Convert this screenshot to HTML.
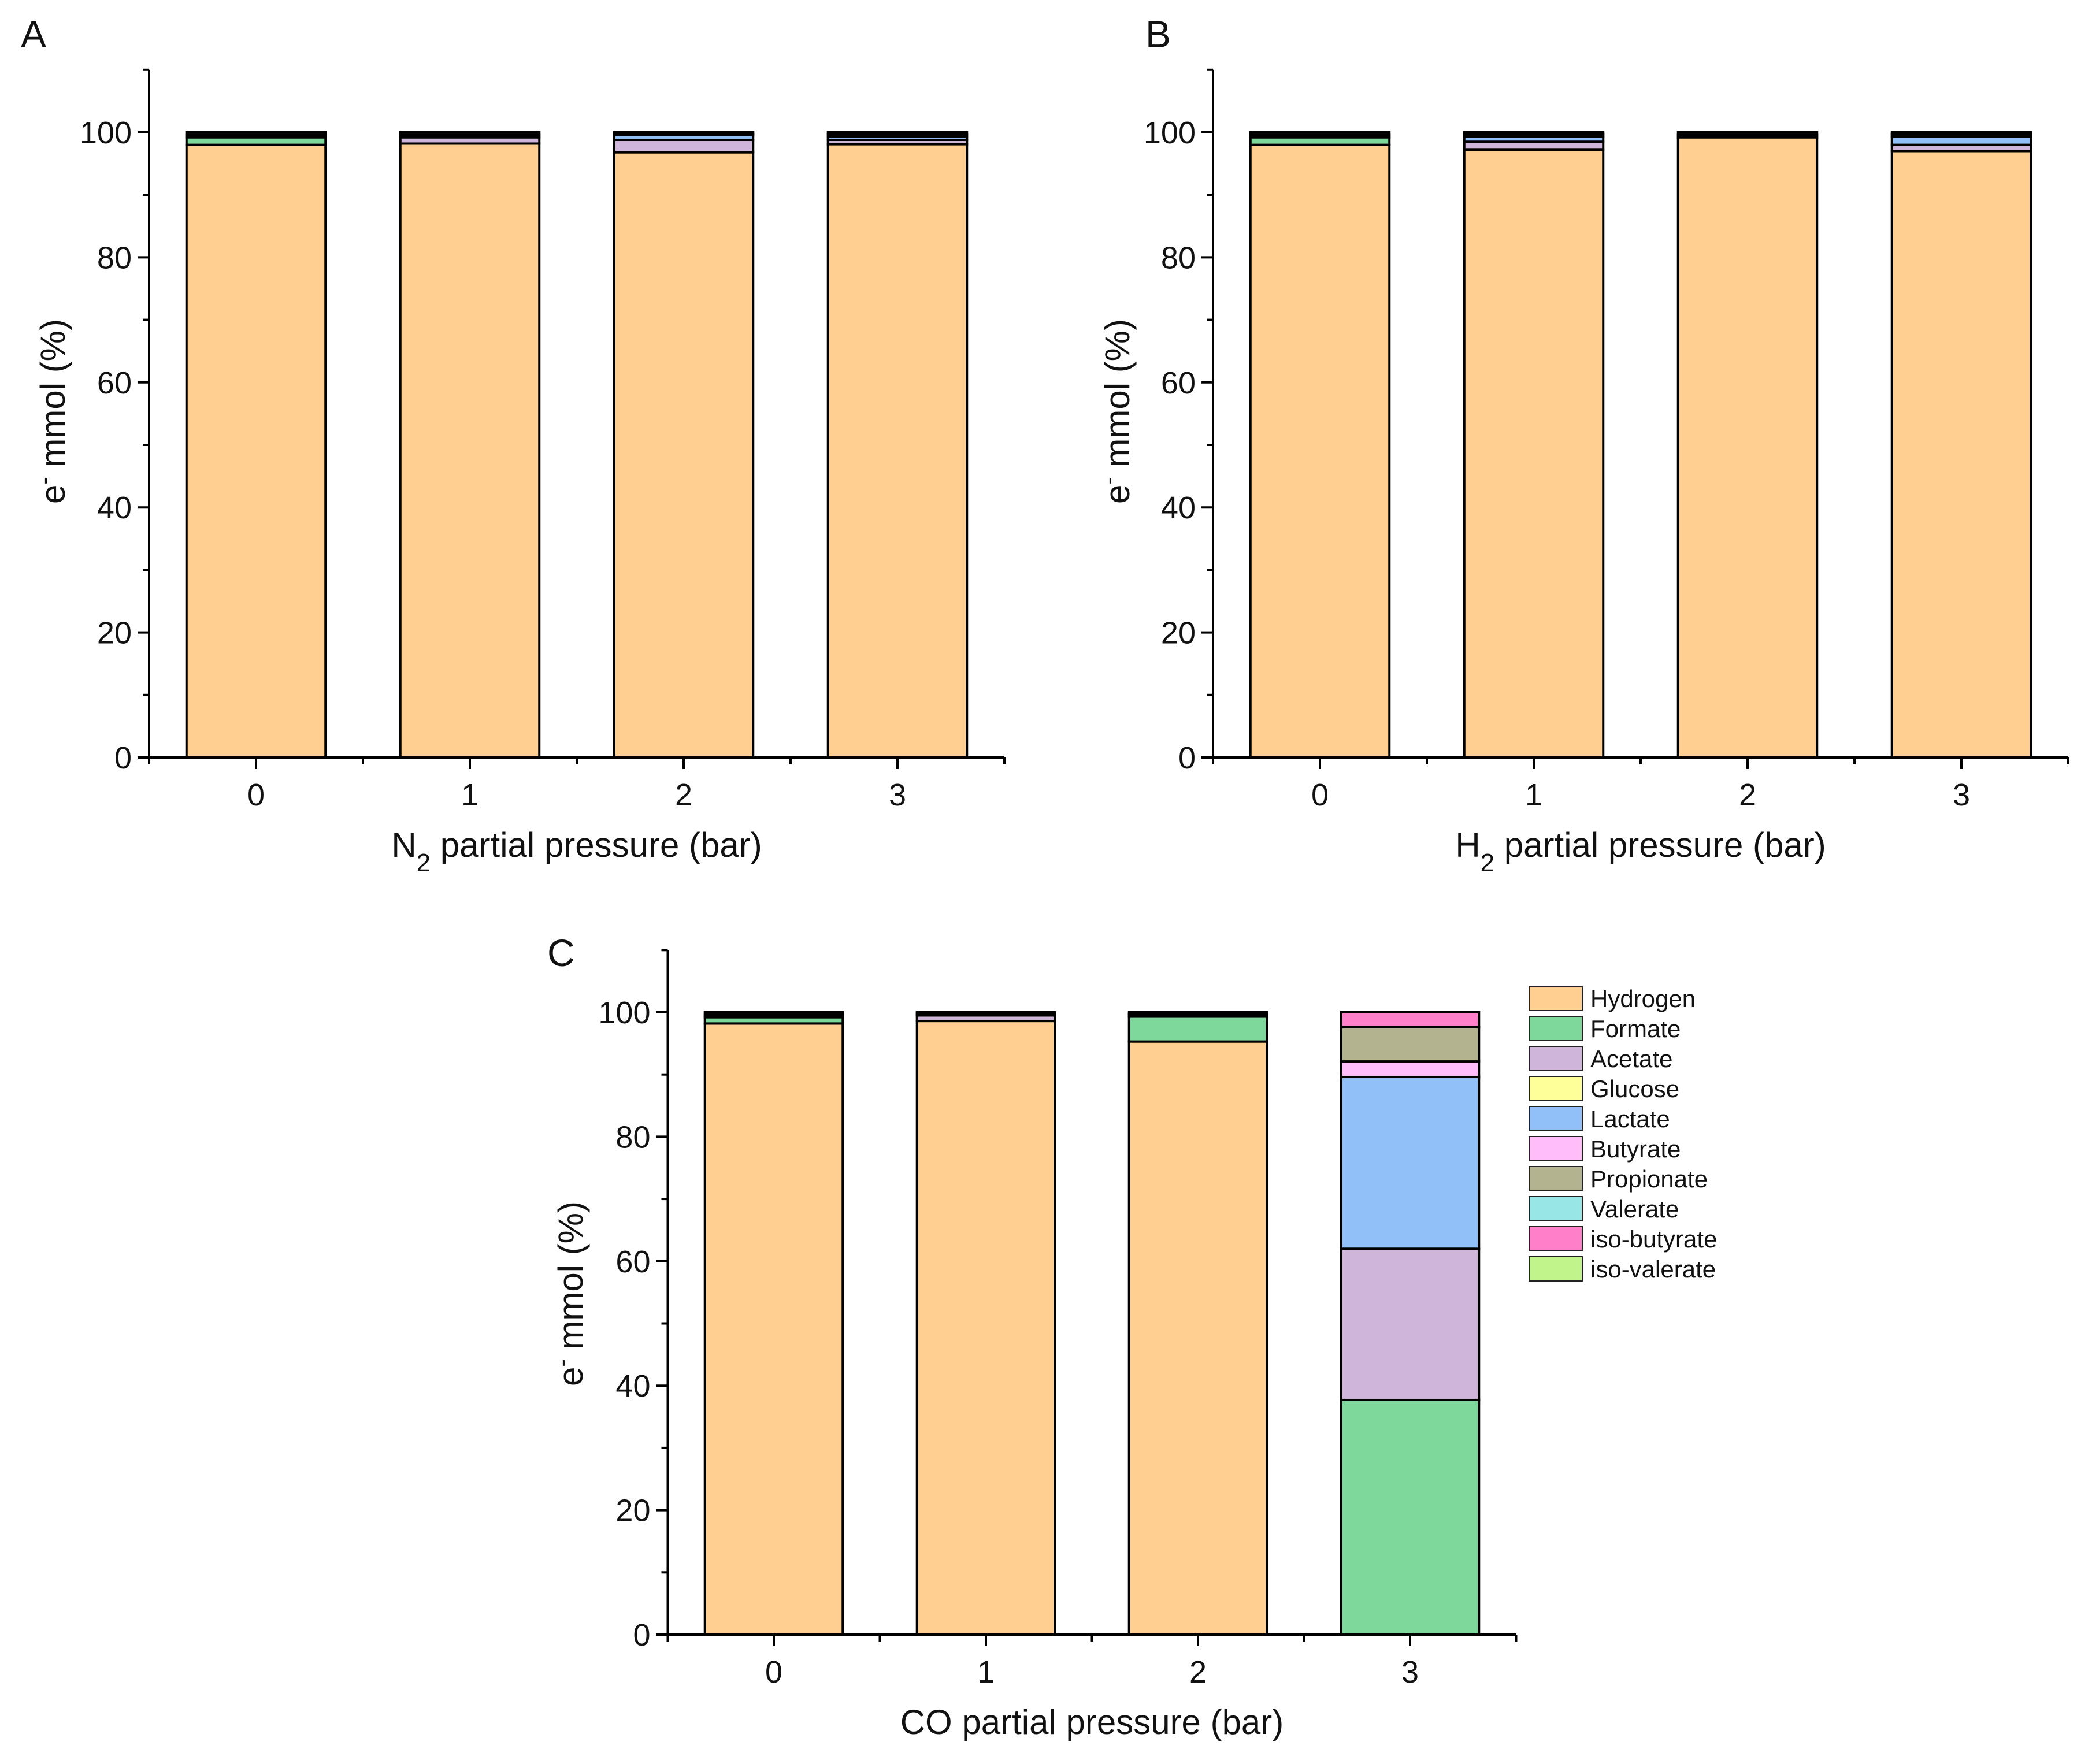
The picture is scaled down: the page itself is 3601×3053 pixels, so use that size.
<!DOCTYPE html>
<html><head><meta charset="utf-8"><style>
html,body{margin:0;padding:0;background:#fff}
svg{display:block;font-family:"Liberation Sans",Arial,sans-serif}
</style></head><body>
<svg id="fig" width="3601" height="3053" viewBox="0 0 3601 3053" xmlns="http://www.w3.org/2000/svg">
<rect width="3601" height="3053" fill="#fff"/>
</svg>
<script>
const categories = ["0","1","2","3"];
const seriesNames = ["Hydrogen","Formate","Acetate","Glucose","Lactate","Butyrate","Propionate","Valerate","iso-butyrate","iso-valerate"];
const seriesColors = ["#FFCF91","#7FD89B","#CFB5D9","#FFFF99","#91BFF7","#FFBDF9","#B3B38F","#99E6E6","#FF80C8","#C1F58B"];
const yTicks = [0,20,40,60,80,100];
// values per series: [cat0, cat1, cat2, cat3]
const panelA = {
  Hydrogen:[98.0,98.2,96.8,98.1], Formate:[1.2,0,0,0], Acetate:[0,1.0,2.0,0.7], Glucose:[0,0,0,0],
  Lactate:[0,0,0.8,0.5], Butyrate:[0,0,0,0], Propionate:[0,0,0,0], Valerate:[0.4,0.4,0.2,0.4],
  "iso-butyrate":[0.4,0.4,0.2,0.3], "iso-valerate":[0,0,0,0]
};
const panelB = {
  Hydrogen:[98.0,97.2,99.2,97.0], Formate:[1.2,0,0,0], Acetate:[0,1.3,0,1.0], Glucose:[0,0,0,0],
  Lactate:[0,0.8,0,1.3], Butyrate:[0,0,0,0], Propionate:[0,0,0,0], Valerate:[0.4,0.4,0.4,0.4],
  "iso-butyrate":[0.4,0.3,0.4,0.3], "iso-valerate":[0,0,0,0]
};
const panelC = {
  Hydrogen:[98.2,98.6,95.3,0], Formate:[1.0,0,4.0,37.7], Acetate:[0,0.9,0,24.3], Glucose:[0,0,0,0],
  Lactate:[0,0,0,27.6], Butyrate:[0,0,0,2.5], Propionate:[0,0,0,5.5], Valerate:[0.4,0.3,0.4,0],
  "iso-butyrate":[0.4,0.2,0.3,2.4], "iso-valerate":[0,0,0,0]
};

const NS="http://www.w3.org/2000/svg";
const svg=document.getElementById('fig');
function mk(tag,attrs,parent){const e=document.createElementNS(NS,tag);for(const k in attrs)e.setAttribute(k,attrs[k]);(parent||svg).appendChild(e);return e;}

function drawPanel(cfg){
  const g=mk('g',{});
  
  
  const y=v=>cfg.y0-(v/100)*(cfg.y0-cfg.y100);
  const x=i=>cfg.x0+i*cfg.step;
  const bw=cfg.step*0.65;
  categories.forEach((c,i)=>{
    let acc=0;
    seriesNames.forEach((s,si)=>{
      const v=cfg.data[s][i];
      if(v<=0)return;
      const small=v<0.5;
      const r=mk('rect',{x:x(i)-bw/2,y:y(acc+v),width:bw,height:y(acc)-y(acc+v),fill:small?'#111':seriesColors[si],stroke:'#000','stroke-width':4},g);
      
      
      acc+=v;
    });
  });
  const left=cfg.x0-cfg.step/2, right=cfg.x0+3.5*cfg.step, top=y(110);
  const ax=mk('path',{d:`M${left} ${top}V${cfg.y0}M${left-2} ${cfg.y0}H${right}`,stroke:'#000','stroke-width':4,fill:'none'},g);
  
  
  for(let v=0;v<=110;v+=10){
    const maj=(v%20===0);
    mk('line',{x1:left-(maj?20:11),x2:left,y1:y(v),y2:y(v),stroke:'#000','stroke-width':4},g);
  }
  yTicks.forEach(v=>{
    const t=mk('text',{x:left-30,y:y(v)+19,'text-anchor':'end','font-size':54,fill:'#111'},g);
    t.textContent=v;
    
    
  });
  for(let k=0;k<=8;k++){
    const xx=left+k*cfg.step/2;
    const maj=(k%2===1);
    mk('line',{x1:xx,x2:xx,y1:cfg.y0,y2:cfg.y0+(maj?20:12),stroke:'#000','stroke-width':4},g);
  }
  categories.forEach((c,i)=>{
    const t=mk('text',{x:x(i),y:cfg.y0+83,'text-anchor':'middle','font-size':54,fill:'#111'},g);
    t.textContent=c;
    
    
  });
  const xt=mk('text',{x:(left+right)/2,y:cfg.y0+172,'text-anchor':'middle','font-size':60,fill:'#111'},g);
  
  
  const t1=mk('tspan',{},xt);t1.textContent=cfg.gas;
  if(cfg.sub){const t2=mk('tspan',{'baseline-shift':'sub','font-size':44},xt);t2.textContent=cfg.sub;}
  const t3=mk('tspan',{},xt);t3.textContent=' partial pressure (bar)';
  const yt=mk('text',{transform:`translate(${cfg.ylx},${cfg.yly}) rotate(-90)`,'text-anchor':'middle','font-size':60,fill:'#111'},g);
  
  
  const a=mk('tspan',{},yt);a.textContent='e';
  const b=mk('tspan',{'baseline-shift':'super','font-size':40},yt);b.textContent='-';
  const c2=mk('tspan',{},yt);c2.textContent=cfg.ytitle;
  const L=mk('text',{x:cfg.lx,y:cfg.ly,'font-size':66,fill:'#111'},g);
  L.textContent=cfg.id.toUpperCase();
  
  
}

drawPanel({id:'a',data:panelA,x0:443,step:370,y0:1311,y100:229,gas:'N',sub:'2',ylx:112,yly:712,ytitle:' mmol (%)',lx:36,ly:82});
drawPanel({id:'b',data:panelB,x0:2284,step:370,y0:1311,y100:229,gas:'H',sub:'2',ylx:1954,yly:712,ytitle:' mmol  (%)',lx:1982,ly:82});
drawPanel({id:'c',data:panelC,x0:1339,step:367,y0:2829,y100:1752,gas:'CO',sub:'',ylx:1008,yly:2239,ytitle:' mmol (%)',lx:947,ly:1672});

const lg=mk('g',{});


seriesNames.forEach((s,i)=>{
  const cy=1728+i*52;
  const r=mk('rect',{x:2646,y:cy-21,width:92,height:42,fill:seriesColors[i],stroke:'#222','stroke-width':2},lg);
  
  
  const t=mk('text',{x:2752,y:cy+15,'font-size':42,fill:'#111'},lg);
  t.textContent=s;
  
  
});
</script>
</body></html>
